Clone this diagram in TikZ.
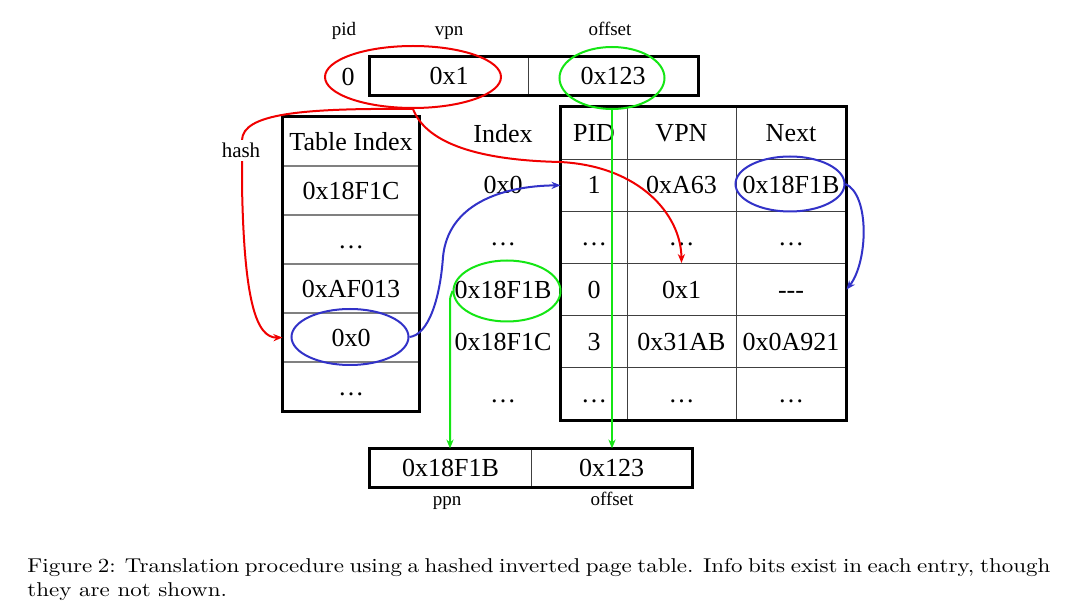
\documentclass[tikz,border=0pt]{standalone}
\usepackage{fontspec}
\newfontfamily\tnr{Liberation Serif}
\usetikzlibrary{arrows.meta,shapes.geometric,calc}
\definecolor{redc}{RGB}{240,0,0}
\definecolor{greenc}{RGB}{20,230,20}
\definecolor{bluec}{RGB}{50,50,200}
\begin{document}
\begin{tikzpicture}[x=0.5pt,y=-0.5pt,
 txt/.style={inner sep=0pt, font=\tnr\fontsize{13}{14}\selectfont, text height=8.6pt, text depth=0pt},
 topcell/.style={txt, draw=black!75, line width=0.5pt, minimum height=19pt},
 cellR/.style={txt, draw=black!75, line width=0.5pt, minimum height=26.08pt},
 cellL/.style={txt, draw=black!50, line width=0.6pt, minimum width=68pt, minimum height=24.5pt},
 frame/.style={line width=1.3pt},
 lbl/.style={inner sep=0pt, anchor=base, font=\tnr\fontsize{9.5}{11}\selectfont},
 ell/.style={ellipse, draw, line width=1pt, inner sep=0pt},
 arr/.style={line width=1pt, -{Stealth[length=4.5pt,width=3.6pt]}},
]
\fill[white] (0,0) rectangle (1084,609);
\useasboundingbox (0,0) rectangle (1084,609);

% ---- virtual address ----
\node[lbl] (lpid) at (344,36) {pid};
\node[lbl] (lvpn) at (449,36) {vpn};
\node[lbl] (loff) at (610,36) {offset};
\node[txt] (tpid) at (348,77) {0};
\node[topcell, minimum width=79pt] (tvpn) at (449,76) {0x1};
\node[topcell, minimum width=85pt] (toff) at (613,76) {0x123};
\draw[frame] (tvpn.north west) rectangle (toff.south east);

% ---- hash table (left) ----
\node[cellL] (ti0) at (351,141.5) {Table Index};
\node[cellL] (ti1) at (351,190.5) {0x18F1C};
\node[cellL] (ti2) at (351,239.5) {…};
\node[cellL] (ti3) at (351,288.5) {0xAF013};
\node[cellL] (ti4) at (351,337.5) {0x0};
\node[cellL] (ti5) at (351,386.5) {…};
\draw[frame] (ti0.north west) rectangle (ti5.south east);

% ---- inverted page table (right) ----
\node[txt] (ix0) at (503,134) {Index};
\node[txt] (ix1) at (503,185.3) {0x0};
\node[txt] (ix2) at (503,237.4) {…};
\node[txt] (ix3) at (503,289.6) {0x18F1B};
\node[txt] (ix4) at (503,341.8) {0x18F1C};
\node[txt] (ix5) at (503,393.9) {…};

\node[cellR, minimum width=33pt] (p0) at (594,133.1) {PID};
\node[cellR, minimum width=33pt] (p1) at (594,185.3) {1};
\node[cellR, minimum width=33pt] (p2) at (594,237.4) {…};
\node[cellR, minimum width=33pt] (p3) at (594,289.6) {0};
\node[cellR, minimum width=33pt] (p4) at (594,341.8) {3};
\node[cellR, minimum width=33pt] (p5) at (594,393.9) {…};

\node[cellR, minimum width=54.5pt] (v0) at (681.5,133.1) {VPN};
\node[cellR, minimum width=54.5pt] (v1) at (681.5,185.3) {0xA63};
\node[cellR, minimum width=54.5pt] (v2) at (681.5,237.4) {…};
\node[cellR, minimum width=54.5pt] (v3) at (681.5,289.6) {0x1};
\node[cellR, minimum width=54.5pt] (v4) at (681.5,341.8) {0x31AB};
\node[cellR, minimum width=54.5pt] (v5) at (681.5,393.9) {…};

\node[cellR, minimum width=55pt] (n0) at (791,133.1) {Next};
\node[cellR, minimum width=55pt] (n1) at (791,185.3) {0x18F1B};
\node[cellR, minimum width=55pt] (n2) at (791,237.4) {…};
\node[cellR, minimum width=55pt] (n3) at (791,289.6) {---};
\node[cellR, minimum width=55pt] (n4) at (791,341.8) {0x0A921};
\node[cellR, minimum width=55pt] (n5) at (791,393.9) {…};
\draw[frame] (p0.north west) rectangle (n5.south east);

% ---- physical address ----
\node[topcell, minimum width=80.5pt] (bppn) at (450.5,468) {0x18F1B};
\node[topcell, minimum width=80.5pt] (boff) at (611.5,468) {0x123};
\draw[frame] (bppn.north west) rectangle (boff.south east);
\node[lbl] (lppn) at (447,506) {ppn};
\node[lbl] (lboff) at (612,506) {offset};

% ---- ellipses ----
\node[ell, draw=redc, minimum width=88pt, minimum height=31pt] (redell) at (413,77) {};
\node[ell, draw=greenc, minimum width=52.5pt, minimum height=31pt] (greenA) at (612,78) {};
\node[ell, draw=greenc, minimum width=53.5pt, minimum height=30.5pt] (greenB) at (507,291) {};
\node[ell, draw=bluec, minimum width=58.5pt, minimum height=28pt] (blueA) at (350,337) {};
\node[ell, draw=bluec, minimum width=54.5pt, minimum height=27.5pt] (blueB) at (790,184) {};

% ---- connectors ----
\draw[arr, draw=redc] (redell.south) .. controls (300,108) and (243,114) .. (242,140)
  -- (242,185) .. controls (244,300) and (256,338) .. (ti4.west);
\node[lbl, fill=white, inner sep=1.5pt, font=\tnr\fontsize{10.5}{12}\selectfont] (lhash) at (241,158) {hash};
\draw[arr, draw=redc] (redell.south) .. controls (425,140) and (470,160) .. (560,162)
  .. controls (640,166) and (681,215) .. (v3.north);

\draw[arr, draw=greenc] (greenA.south) -- (greenA.south |- boff.north);
\coordinate (g2) at (450,312);
\draw[arr, draw=greenc] (greenB.west) .. controls (450,296) .. (g2) -- (g2 |- bppn.north);

\draw[arr, draw=bluec] (blueA.east) .. controls (428,335) and (440,300) .. (443,257)
  .. controls (448,205) and (500,186) .. (p1.west);
\draw[arr, draw=bluec] (blueB.east) .. controls (870,195) and (868,262) .. (n3.east);

% ---- caption ----
\node[anchor=north west, inner sep=0pt] (cap) at (27,558)
  {\scalebox{1.15}[1]{\parbox[t]{444.8pt}{\fontsize{10}{12}\selectfont\noindent
  Figure 2: Translation procedure using a hashed inverted page table. Info bits exist in each entry, though\linebreak they are not shown.}}};
\end{tikzpicture}
\end{document}
